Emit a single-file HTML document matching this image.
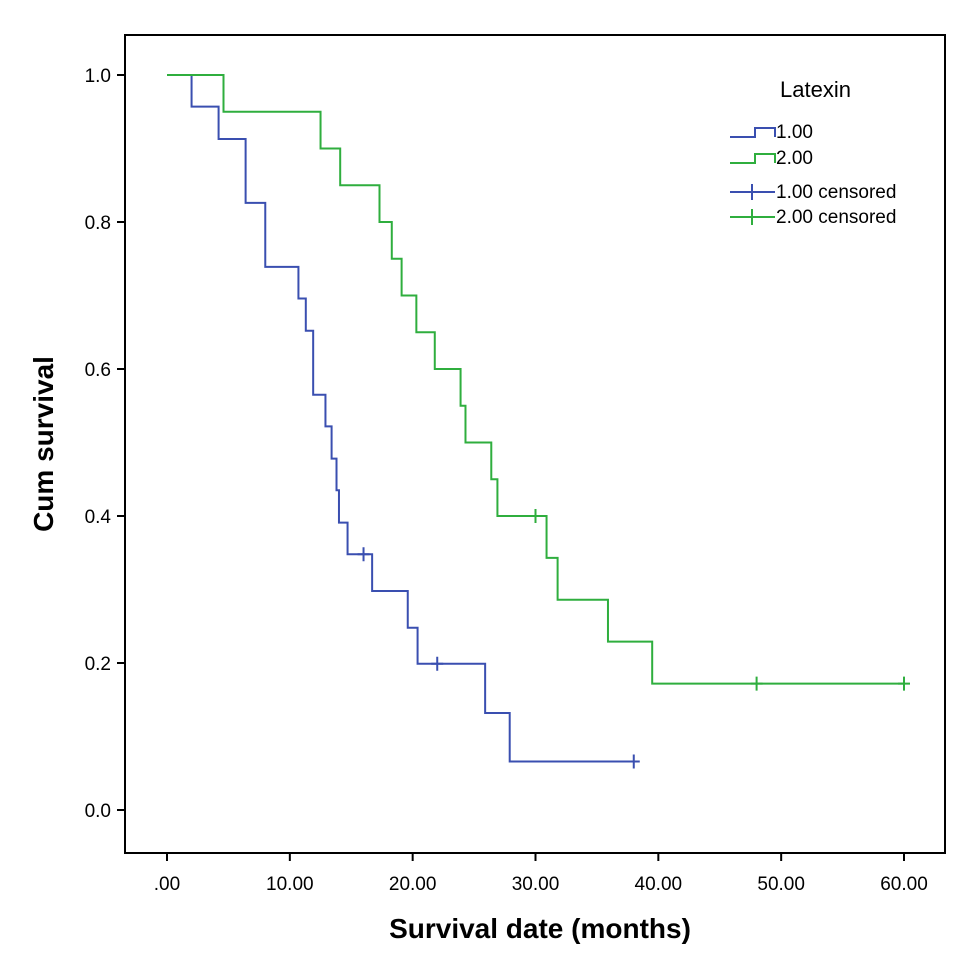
<!DOCTYPE html>
<html><head><meta charset="utf-8"><style>
body{margin:0;background:#fff}
svg{display:block;font-family:"Liberation Sans",Arial,sans-serif}
</style></head><body>
<svg id="chart" width="972" height="963" viewBox="0 0 972 963">
<rect x="125" y="35" width="820" height="818" fill="#fff" stroke="#000" stroke-width="2"/>
<g id="axes"></g>
<g id="series"></g>
<text transform="translate(53,444) rotate(-90)" text-anchor="middle" font-size="28" font-weight="bold">Cum survival</text>
<text x="540" y="938" text-anchor="middle" font-size="28" font-weight="bold">Survival date (months)</text>
<g>
<text x="780" y="97" font-size="22">Latexin</text>
<path d="M730,137 H755 V128 H775 V137" fill="none" stroke="#3a4fb0" stroke-width="2"/>
<text x="776" y="138" font-size="19">1.00</text>
<path d="M730,163 H755 V154 H775 V163" fill="none" stroke="#2fae3e" stroke-width="2"/>
<text x="776" y="164" font-size="19">2.00</text>
<path d="M730,192 H775 M752,184 V200" fill="none" stroke="#3a4fb0" stroke-width="2"/>
<text x="776" y="198" font-size="19">1.00 censored</text>
<path d="M730,217 H775 M752,209 V225" fill="none" stroke="#2fae3e" stroke-width="2"/>
<text x="776" y="223" font-size="19">2.00 censored</text>
</g>
</svg>
<script>
const xTicks=[0,10,20,30,40,50,60];
const xTickLabels=[".00","10.00","20.00","30.00","40.00","50.00","60.00"];
const yTicks=[0,0.2,0.4,0.6,0.8,1.0];
const yTickLabels=["0.0","0.2","0.4","0.6","0.8","1.0"];
const g1Times=[2.0,4.2,6.4,8.0,10.7,11.3,11.9,12.9,13.4,13.8,14.0,14.7,16.7,19.6,20.4,25.9,27.9];
const g1Surv=[0.957,0.913,0.826,0.739,0.696,0.652,0.565,0.522,0.478,0.435,0.391,0.348,0.298,0.248,0.199,0.132,0.066];
const g1End=38;
const g1Censor=[16,22,38];
const g2Times=[4.6,12.5,14.1,17.3,18.3,19.1,20.3,21.8,23.9,24.3,26.4,26.9,30.9,31.8,35.9,39.5];
const g2Surv=[0.95,0.90,0.85,0.80,0.75,0.70,0.65,0.60,0.55,0.50,0.45,0.40,0.343,0.286,0.229,0.172];
const g2End=60;
const g2Censor=[30,48,60];
const NS="http://www.w3.org/2000/svg";
const X=t=>167+t*(904-167)/60;
const Y=s=>810-s*735;
function mk(tag,attrs,parent){const e=document.createElementNS(NS,tag);for(const k in attrs)e.setAttribute(k,attrs[k]);parent.appendChild(e);return e;}
const axes=document.getElementById('axes');
xTicks.forEach((v,i)=>{
 const l=mk('line',{x1:X(v),x2:X(v),y1:853,y2:861,stroke:'#000','stroke-width':2},axes);
 
 
 const t=mk('text',{x:X(v),y:890,'text-anchor':'middle','font-size':19},axes);t.textContent=xTickLabels[i];
 
 
});
yTicks.forEach((v,i)=>{
 const l=mk('line',{x1:117,x2:125,y1:Y(v),y2:Y(v),stroke:'#000','stroke-width':2},axes);
 
 
 const t=mk('text',{x:111,y:Y(v)+7,'text-anchor':'end','font-size':19},axes);t.textContent=yTickLabels[i];
 
 
});
const series=document.getElementById('series');
function draw(times,surv,end,cens,color,name){
 let d='M'+X(0)+','+Y(1);
 times.forEach((t,i)=>{d+=' H'+X(t)+' V'+Y(surv[i]);});
 d+=' H'+X(end);
 const p=mk('path',{d:d,fill:'none',stroke:color,'stroke-width':2},series);
 
 
 cens.forEach(c=>{
  let sv=1;times.forEach((t,i)=>{if(t<=c)sv=surv[i];});
  const m=mk('path',{d:'M'+(X(c)-6)+','+Y(sv)+' H'+(X(c)+6)+' M'+X(c)+','+(Y(sv)-7)+' V'+(Y(sv)+7),stroke:color,'stroke-width':2,fill:'none'},series);
  
  
 });
}
draw(g1Times,g1Surv,g1End,g1Censor,'#3a4fb0','group-1');
draw(g2Times,g2Surv,g2End,g2Censor,'#2fae3e','group-2');
</script>
</body></html>
